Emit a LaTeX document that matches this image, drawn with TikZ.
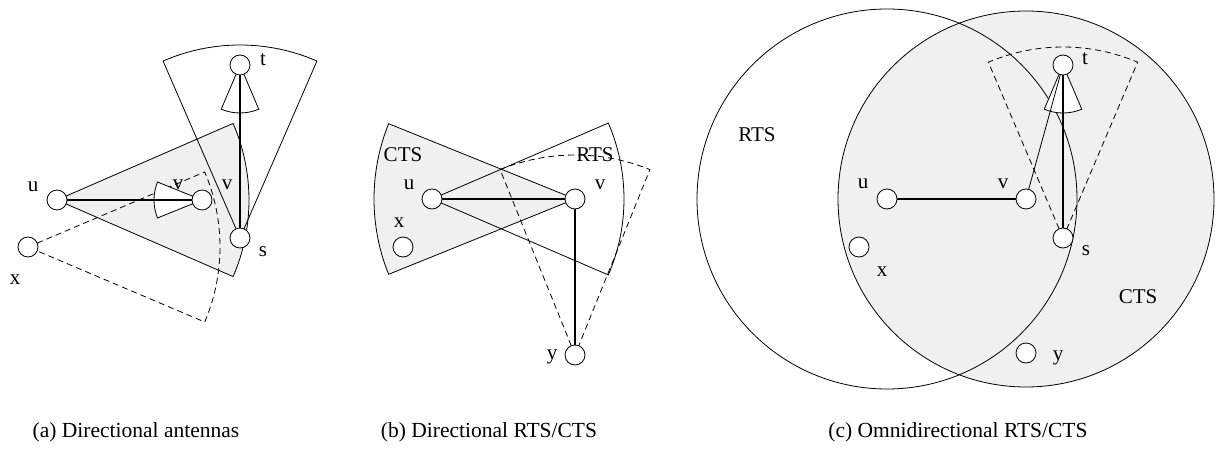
\documentclass[tikz,border=0pt]{standalone}
\usepackage{fontspec}
\setmainfont{Liberation Serif}
\usepackage{tikz}
\usetikzlibrary{backgrounds}

\begin{document}
\begin{tikzpicture}[
    x=1pt, y=1pt,
    station/.style={draw, circle, fill=white, minimum size=20pt, inner sep=0pt, line width=0.8pt},
    lbl/.style={font=\fontsize{21}{25}\selectfont, inner sep=0pt},
    caption/.style={font=\fontsize{21.5}{25}\selectfont, inner sep=0pt},
    zone/.style={draw, line width=0.8pt},
    shaded/.style={draw, fill=gray!12, line width=0.8pt},
    hidden/.style={draw, dashed, dash pattern=on 6pt off 4pt, line width=0.8pt},
    cone/.style={draw, fill=white, line width=0.8pt},
    link/.style={line width=2pt},
    thinlink/.style={line width=0.8pt},
]
\useasboundingbox (0,0) rectangle (1229,459);

% ── (a) Directional antennas ──
\node[station] (ua) at (57,259) {};
\node[station] (va) at (202,259) {};
\node[station] (sa) at (240,221) {};
\node[station] (ta) at (240,394) {};
\node[station] (xa) at (28,212) {};

\node[lbl] (ua-l) at (33,272) {u};
\node[lbl] (va-l) at (178,274) {v};
\node[lbl] (sv-l) at (227,274) {v};
\node[lbl] (sa-l) at (263,207) {s};
\node[lbl] (ta-l) at (263,399) {t};
\node[lbl] (xa-l) at (15,179) {x};

\begin{scope}[on background layer]
\draw[shaded] (ua.center) -- ++(23.5:192) arc[start angle=23.5, end angle=-23.5, radius=192] -- cycle;
\draw[zone] (sa.center) -- ++(113.5:193) arc[start angle=113.5, end angle=66.5, radius=193] -- cycle;
\draw[hidden] (xa.center) -- ++(23:192) arc[start angle=23, end angle=-23, radius=192] -- cycle;
\draw[cone] (ta.center) -- ++(247:48) arc[start angle=247, end angle=293, radius=48] -- cycle;
\draw[cone] (va.center) -- ++(158:48) arc[start angle=158, end angle=202, radius=48] -- cycle;
\end{scope}

\draw[link] (ua) -- (va);
\draw[link] (sa) -- (ta);

% ── (b) Directional RTS/CTS ──
\node[station] (ub) at (432,260) {};
\node[station] (vb) at (575,260) {};
\node[station] (xb) at (403,212) {};
\node[station] (yb) at (575,104) {};

\node[lbl] (ctsb) at (403,304) {CTS};
\node[lbl] (rtsb) at (595,304) {RTS};
\node[lbl] (ub-l) at (409,274) {u};
\node[lbl] (vb-l) at (600,274) {v};
\node[lbl] (xb-l) at (399,236) {x};
\node[lbl] (yb-l) at (552,102) {y};

\begin{scope}[on background layer]
\draw[shaded] (vb.center) -- ++(158:201) arc[start angle=158, end angle=202, radius=201] -- cycle;
\draw[zone] (ub.center) -- ++(23.3:192) arc[start angle=23.3, end angle=-23.3, radius=192] -- cycle;
\draw[hidden] (yb.center) -- ++(112:200) arc[start angle=112, end angle=68, radius=200] -- cycle;
\end{scope}

\draw[link] (ub) -- (vb);
\draw[link] (vb) -- (yb);

% ── (c) Omnidirectional RTS/CTS ──
\node[station] (uc) at (887,260) {};
\node[station] (vc) at (1026,260) {};
\node[station] (tc) at (1063,394) {};
\node[station] (sc) at (1063,221) {};
\node[station] (xc) at (859,212) {};
\node[station] (yc) at (1026,106) {};

\node[lbl] (rtsc) at (757,324) {RTS};
\node[lbl] (ctsc) at (1138,162) {CTS};
\node[lbl] (uc-l) at (863,275) {u};
\node[lbl] (vc-l) at (1003,275) {v};
\node[lbl] (tc-l) at (1085,400) {t};
\node[lbl] (sc-l) at (1086,208) {s};
\node[lbl] (xc-l) at (882,187) {x};
\node[lbl] (yc-l) at (1058,101) {y};

\begin{scope}[on background layer]
\draw[shaded] (vc.center) circle[radius=188];
\draw[zone] (uc.center) circle[radius=190];
\draw[hidden] (sc.center) -- ++(113:191) arc[start angle=113, end angle=67, radius=191] -- cycle;
\draw[cone] (tc.center) -- ++(247:48) arc[start angle=247, end angle=293, radius=48] -- cycle;
\end{scope}

\draw[link] (uc) -- (vc);
\draw[link] (sc) -- (tc);
\draw[thinlink] (vc) -- (tc);

% ── Captions ──
\node[caption] (cap-a) at (136,27) {(a) Directional antennas};
\node[caption] (cap-b) at (489,27) {(b) Directional RTS/CTS};
\node[caption] (cap-c) at (958,27) {(c) Omnidirectional RTS/CTS};

\end{tikzpicture}
\end{document}
